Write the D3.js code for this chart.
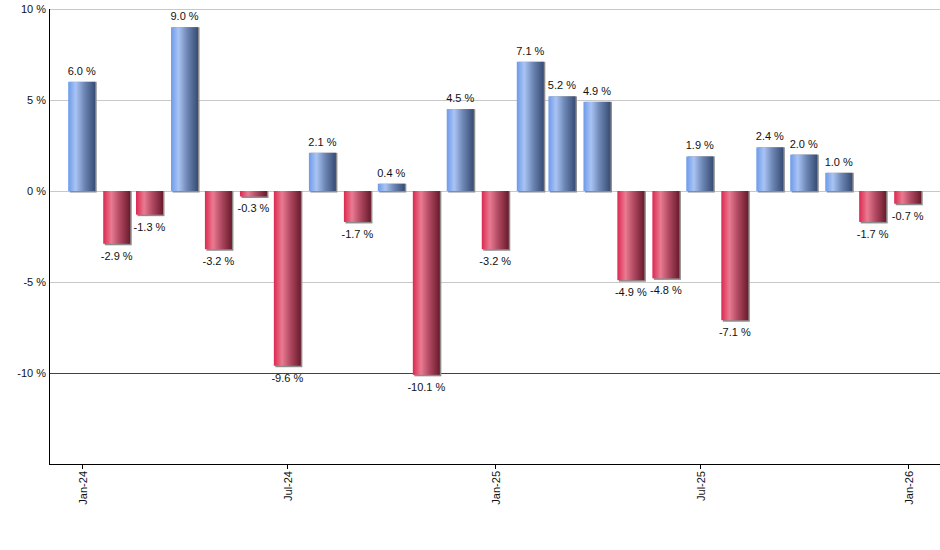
<!DOCTYPE html>
<html>
<head>
<meta charset="utf-8">
<script src="https://cdn.jsdelivr.net/npm/d3@7.9.0/dist/d3.min.js"></script>
<style>
  body { margin: 0; background: #fff; }
  svg text { font-family: "Liberation Sans", Arial, sans-serif; font-size: 11px; fill: #111; }
</style>
</head>
<body>
<svg id="chart" width="940" height="550"></svg>
<script>
// monthly returns, Jan-24 .. Jan-26
const months = ["2024-01","2024-02","2024-03","2024-04","2024-05","2024-06","2024-07","2024-08",
  "2024-09","2024-10","2024-11","2024-12","2025-01","2025-02","2025-03","2025-04","2025-05",
  "2025-06","2025-07","2025-08","2025-09","2025-10","2025-11","2025-12","2026-01"];
const returns = [6.0, -2.9, -1.3, 9.0, -3.2, -0.3, -9.6, 2.1, -1.7, 0.4, -10.1, 4.5, -3.2,
  7.1, 5.2, 4.9, -4.9, -4.8, 1.9, -7.1, 2.4, 2.0, 1.0, -1.7, -0.7];
const yTicks = [10, 5, 0, -5, -10];
const xTicks = ["2024-01", "2024-07", "2025-01", "2025-07", "2026-01"];

const parse = d3.utcParse("%Y-%m");
const data = months.map((m, i) => ({ date: parse(m), value: returns[i] }));

const svg = d3.select("#chart");
const plotLeft = 49, plotRight = 940, plotTop = 9, plotBottom = 464;
const barW = 27;

const x = d3.scaleUtc()
  .domain([parse("2024-01"), parse("2026-01")])
  .range([81.7, 907.7]);
const y = d3.scaleLinear().domain([-15, 10]).range([plotBottom, plotTop]);

// gradients
const defs = svg.append("defs");
function grad(id, stops) {
  const g = defs.append("linearGradient").attr("id", id)
    .attr("x1", "0%").attr("x2", "100%").attr("y1", "0%").attr("y2", "0%");
  stops.forEach(s => g.append("stop").attr("offset", s[0]).attr("stop-color", s[1]));
}
grad("blueGrad", [["0%", "#6e9ae9"], ["28%", "#a9c4f4"], ["60%", "#6d86b4"], ["100%", "#374c74"]]);
grad("redGrad", [["0%", "#dc2850"], ["30%", "#e97b91"], ["60%", "#b24a63"], ["100%", "#6a1a2c"]]);

// gridlines
svg.append("g").selectAll("line")
  .data(yTicks)
  .join("line")
  .attr("x1", plotLeft).attr("x2", plotRight)
  .attr("y1", d => Math.round(y(d)) + 0.5).attr("y2", d => Math.round(y(d)) + 0.5)
  .attr("stroke", d => d === -10 ? "#0b6b0b" : "#c8c8c8")
  .attr("stroke-width", 1);

// y labels
svg.append("g").selectAll("text")
  .data(yTicks)
  .join("text")
  .attr("x", 46)
  .attr("y", d => y(d) + 4)
  .attr("text-anchor", "end")
  .text(d => d + " %");

// bars
const bars = svg.append("g");
bars.selectAll("rect.shadow")
  .data(data)
  .join("rect")
  .attr("class", "shadow")
  .attr("x", d => x(d.date) - barW / 2 + 1.5)
  .attr("y", d => Math.min(y(d.value), y(0)))
  .attr("width", barW)
  .attr("height", d => Math.abs(y(d.value) - y(0)) + 1.5)
  .attr("fill", "#8c8c8c");
bars.selectAll("rect.bar")
  .data(data)
  .join("rect")
  .attr("class", "bar")
  .attr("x", d => x(d.date) - barW / 2)
  .attr("y", d => Math.min(y(d.value), y(0)))
  .attr("width", barW)
  .attr("height", d => Math.abs(y(d.value) - y(0)))
  .attr("fill", d => d.value >= 0 ? "url(#blueGrad)" : "url(#redGrad)");

// value labels
svg.append("g").selectAll("text")
  .data(data)
  .join("text")
  .attr("x", d => x(d.date))
  .attr("y", d => d.value >= 0 ? y(d.value) - 7 : y(d.value) + 16)
  .attr("text-anchor", "middle")
  .text(d => d.value.toFixed(1) + " %");

// axes lines
svg.append("line").attr("x1", plotLeft + 0.5).attr("x2", plotLeft + 0.5)
  .attr("y1", plotTop).attr("y2", plotBottom + 0.5).attr("stroke", "#000");
svg.append("line").attr("x1", plotLeft).attr("x2", plotRight)
  .attr("y1", plotBottom + 0.5).attr("y2", plotBottom + 0.5).attr("stroke", "#000");

// x ticks
const xt = svg.append("g").selectAll("g")
  .data(xTicks.map(parse))
  .join("g")
  .attr("transform", d => `translate(${Math.round(x(d)) + 0.5},${plotBottom})`);
xt.append("line").attr("y1", 0).attr("y2", 5).attr("stroke", "#000");
xt.append("text")
  .attr("transform", "translate(4,7) rotate(-90)")
  .attr("text-anchor", "end")
  .text(d => d3.utcFormat("%b-%y")(d));
</script>
</body>
</html>
